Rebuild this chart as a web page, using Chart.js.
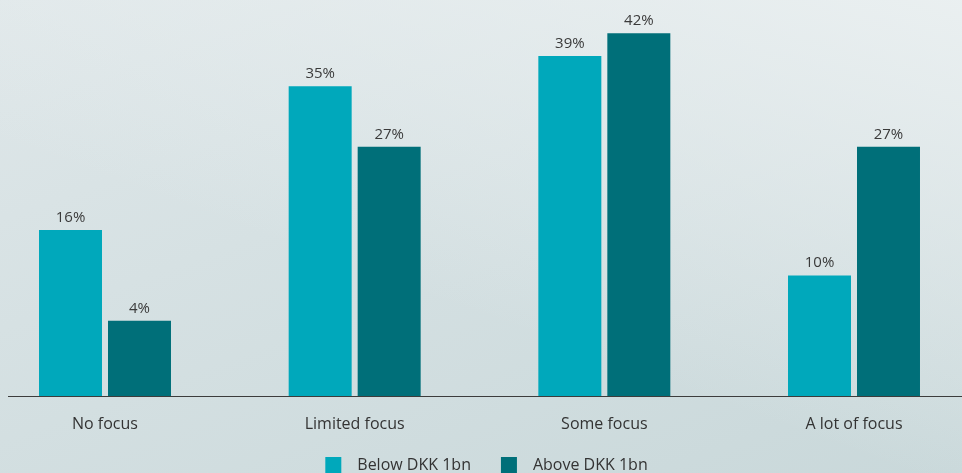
<!DOCTYPE html>
<html>
<head>
<meta charset="utf-8">
<script src="https://cdn.jsdelivr.net/npm/chart.js@4/dist/chart.umd.min.js"></script>
<style>
  html, body { margin: 0; padding: 0; overflow: hidden; }
  body {
    width: 962px; height: 473px;
    background: linear-gradient(160deg, #dfe7e9 0%, #d6e1e3 40%, #c9d8da 100%);
  }
  #bg {
    position: absolute; left: 0; top: 0; width: 962px; height: 473px;
    background: linear-gradient(200deg, rgba(236,241,242,0.9) 0%, rgba(236,241,242,0) 60%);
  }
  #wrap { position: absolute; left: 0; top: 0; width: 962px; height: 483px; }
</style>
</head>
<body>
<div id="bg"></div>
<div id="wrap"><canvas id="c"></canvas></div>
<script>
const categories = ['No focus', 'Limited focus', 'Some focus', 'A lot of focus'];
const seriesNames = ['Below DKK 1bn', 'Above DKK 1bn'];
const belowValues = [16, 35, 39, 10];
const aboveValues = [4, 27, 42, 27];
const seriesColors = ['#00a8bb', '#006f79'];
const yMin = -6;
const yMax = 46;

const FONT = "'Open Sans', 'Noto Sans', sans-serif";

function legendSwatch(color) {
  const cv = document.createElement('canvas');
  cv.width = 44; cv.height = 16;
  const g = cv.getContext('2d');
  g.fillStyle = color;
  g.fillRect(20, 0, 16, 16);
  return cv;
}
const swatches = seriesColors.map(legendSwatch);

const valueLabels = {
  id: 'valueLabels',
  afterDatasetsDraw(chart) {
    const ctx = chart.ctx;
    ctx.save();
    ctx.font = "15px " + FONT;
    ctx.fillStyle = '#3a3a3a';
    ctx.textAlign = 'center';
    ctx.textBaseline = 'alphabetic';
    chart.data.datasets.forEach((ds, di) => {
      const meta = chart.getDatasetMeta(di);
      meta.data.forEach((bar, i) => {
        ctx.fillText(ds.data[i] + '%', bar.x, bar.y - 8);
      });
    });
    ctx.restore();
  }
};

const axisLine = {
  id: 'axisLine',
  afterDatasetsDraw(chart) {
    const ctx = chart.ctx;
    const y = Math.round(chart.chartArea.bottom) - 0.5;
    ctx.save();
    ctx.strokeStyle = '#3c3c3c';
    ctx.lineWidth = 1;
    ctx.beginPath();
    ctx.moveTo(8, y);
    ctx.lineTo(chart.width, y);
    ctx.stroke();
    ctx.restore();
  }
};

new Chart(document.getElementById('c'), {
  type: 'bar',
  data: {
    labels: categories,
    datasets: [
      { label: seriesNames[0], data: belowValues, backgroundColor: seriesColors[0], base: yMin,
        categoryPercentage: 0.5527, barPercentage: 0.913, clip: false },
      { label: seriesNames[1], data: aboveValues, backgroundColor: seriesColors[1], base: yMin,
        categoryPercentage: 0.5527, barPercentage: 0.913, clip: false }
    ]
  },
  options: {
    responsive: true,
    maintainAspectRatio: false,
    animation: false,
    layout: { padding: { top: 3, left: 0, right: 9, bottom: 0 } },
    plugins: {
      tooltip: { enabled: false },
      legend: {
        position: 'bottom',
        labels: {
          usePointStyle: true,
          pointStyleWidth: 44,
          padding: 10,
          color: '#333333',
          font: { family: FONT, size: 16 },
          generateLabels(chart) {
            const items = Chart.defaults.plugins.legend.labels.generateLabels(chart);
            items.forEach((it, i) => { it.pointStyle = swatches[i]; it.lineWidth = 0; });
            return items;
          }
        }
      }
    },
    scales: {
      x: {
        offset: false,
        grid: { display: false, drawTicks: false },
        border: { display: false },
        ticks: { color: '#333333', font: { family: FONT, size: 16 }, padding: 18, maxRotation: 0 },
        afterFit(scale) { scale.height = 50.5; }
      },
      y: {
        min: yMin, max: yMax,
        grid: { display: false, drawTicks: false },
        border: { display: false },
        ticks: { display: false },
        afterFit(scale) { scale.width = 105; }
      },
      y2: {
        position: 'right',
        grid: { display: false, drawTicks: false },
        border: { display: false },
        ticks: { display: false },
        afterFit(scale) { scale.width = 99; }
      }
    }
  },
  plugins: [valueLabels, axisLine]
});
</script>
</body>
</html>
